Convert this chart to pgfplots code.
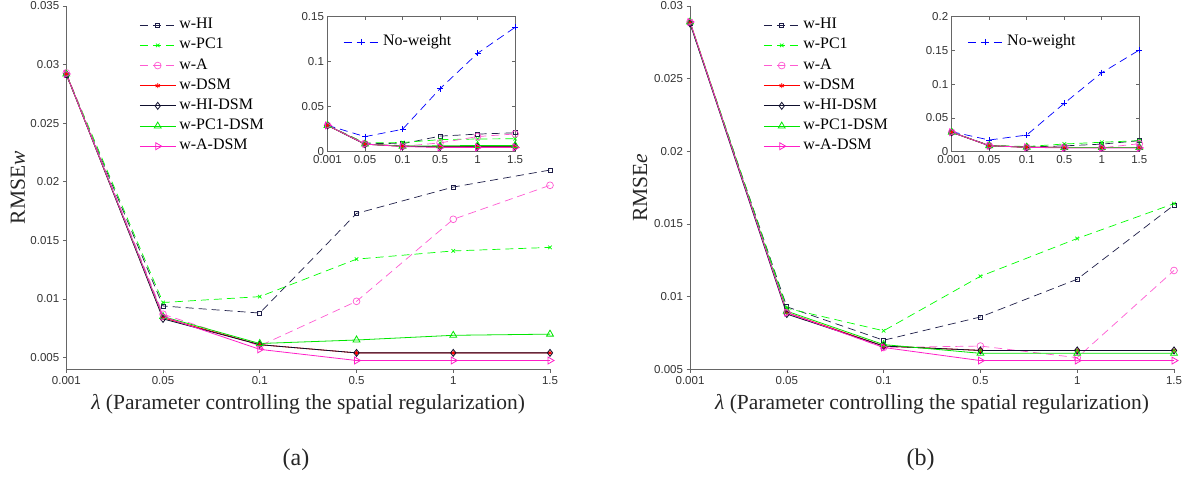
\documentclass[border=0pt]{standalone}
\usepackage{fontspec}
\setmainfont{Liberation Serif}
\newfontfamily\tickfont{Liberation Sans}
\usepackage{pgfplots}
\usepackage{pgfplotstable}
\pgfplotsset{compat=1.18}

\definecolor{cHI}{RGB}{30,30,72}
\definecolor{cPC}{RGB}{0,255,0}
\definecolor{cA}{RGB}{255,90,210}
\definecolor{cDSM}{RGB}{255,0,0}
\definecolor{cHID}{RGB}{15,15,45}
\definecolor{cPCD}{RGB}{0,230,0}
\definecolor{cAD}{RGB}{255,30,200}
\definecolor{cNW}{RGB}{0,0,255}

% RMSE_w (panel a)
\pgfplotstableread{
x HI PC A DSM HID PCD AD NW
0 0.0291 0.0292 0.0293 0.0292 0.0292 0.0292 0.0292 0.0293
1 0.0094 0.0097 0.0087 0.0084 0.0083 0.0085 0.0085 0.0167
2 0.0088 0.0102 0.0060 0.0061 0.0061 0.0062 0.0057 0.0249
3 0.0173 0.0134 0.0098 0.0054 0.0054 0.0065 0.00475 0.0700
4 0.01955 0.0141 0.0168 0.0054 0.0054 0.0069 0.00475 0.1093
5 0.0210 0.0144 0.0197 0.0054 0.0054 0.0070 0.00475 0.1382
}\dataA

% RMSE_e (panel b)
\pgfplotstableread{
x HI PC A DSM HID PCD AD NW
0 0.0288 0.0289 0.0289 0.0289 0.0288 0.0289 0.0289 0.0296
1 0.0093 0.0092 0.0089 0.0089 0.0088 0.0090 0.0089 0.0173
2 0.0070 0.00765 0.0065 0.0066 0.0066 0.0067 0.0065 0.0247
3 0.0086 0.0114 0.0066 0.0063 0.0063 0.0061 0.0056 0.0717
4 0.0112 0.0140 0.0058 0.0063 0.0063 0.0061 0.0056 0.1170
5 0.0163 0.0164 0.0118 0.0063 0.0063 0.0061 0.0056 0.1506
}\dataB

\pgfplotsset{
  sHI/.style={cHI, line width=0.7pt, dash pattern=on 8pt off 5pt, mark=square, mark size=2pt, mark options={solid}},
  sPC/.style={cPC, line width=0.7pt, dash pattern=on 8pt off 5pt, mark=x, mark size=2.5pt, mark options={solid}},
  sA/.style={cA, line width=0.7pt, dash pattern=on 8pt off 5pt, mark=o, mark size=3.4pt, mark options={solid}},
  sDSM/.style={cDSM, line width=0.8pt, solid, mark=asterisk, mark size=2.5pt},
  sHID/.style={cHID, line width=0.8pt, solid, mark=diamond, mark size=3.5pt},
  sPCD/.style={cPCD, line width=0.8pt, solid, mark=triangle, mark size=4pt},
  sAD/.style={cAD, line width=0.8pt, solid, mark=triangle, mark size=4pt, mark options={solid, rotate=-90}},
  sNW/.style={cNW, line width=0.7pt, dash pattern=on 8pt off 5pt, mark=+, mark size=3pt, mark options={solid}},
  common/.style={
    scale only axis, clip=false,
    xmin=0, xmax=5, xtick={0,1,2,3,4,5},
    xticklabels={0.001,0.05,0.1,0.5,1,1.5},
    major tick length=3.5pt,
    tick style={black!60, line width=0.6pt},
    ticklabel style={font=\tickfont\fontsize{11.5}{12}\selectfont, text=black!80},
    legend image code/.code={\draw[mark repeat=2,mark phase=2,##1] plot coordinates {(0pt,0pt) (17.85pt,0pt) (35.7pt,0pt)};},
    legend style={draw=none, fill=none, inner sep=0pt, anchor=north west,
      font=\fontsize{16}{18}\selectfont,
      nodes={inner sep=0pt, text height=11pt, text depth=4pt},
      row sep=5.17pt, column sep=3.3pt},
    legend cell align=left,
  },
  mainax/.style={common,
    axis lines=left, axis line style={-, black!60, line width=0.6pt},
    tick align=outside,
    width=483.7pt, height=363.3pt,
    every axis x label/.style={at={(axis description cs:0.5,-0.112)}, anchor=base,
      font=\fontsize{21.5}{24}\selectfont, text=black!85},
    legend style={at={(axis description cs:0.1509,0.9683)}},
  },
  insetax/.style={common,
    axis background/.style={fill=white},
    axis line style={black!60, line width=0.6pt},
    tick align=inside,
    width=187.6pt, height=135pt,
    ytick={0,0.05,0.1,0.15,0.2},
    yticklabels={0,0.05,0.1,0.15,0.2},
    legend style={at={(axis description cs:0.0832,0.870)}},
  },
}

\begin{document}
\begin{tikzpicture}
\useasboundingbox (0,0) rectangle (1185pt,478pt);

% ---------- panel (a) main
\begin{axis}[mainax, at={(66.3pt,108.7pt)}, anchor=south west,
  ymin=0.004, ymax=0.035,
  ytick={0.005,0.01,0.015,0.02,0.025,0.03,0.035},
  yticklabels={0.005,0.01,0.015,0.02,0.025,0.03,0.035},
  xlabel={{\itshape λ} (Parameter controlling the spatial regularization)},
  ylabel={RMSE\textit{w}},
  every axis y label/.style={at={(axis description cs:-0.0854,0.5)}, rotate=90, anchor=base,
      font=\fontsize{21.5}{24}\selectfont, text=black!85},
]
\addplot[sHI] table[x=x,y=HI]{\dataA}; \addlegendentry{w-HI}
\addplot[sPC] table[x=x,y=PC]{\dataA}; \addlegendentry{w-PC1}
\addplot[sA] table[x=x,y=A]{\dataA}; \addlegendentry{w-A}
\addplot[sDSM] table[x=x,y=DSM]{\dataA}; \addlegendentry{w-DSM}
\addplot[sHID] table[x=x,y=HID]{\dataA}; \addlegendentry{w-HI-DSM}
\addplot[sPCD] table[x=x,y=PCD]{\dataA}; \addlegendentry{w-PC1-DSM}
\addplot[sAD] table[x=x,y=AD]{\dataA}; \addlegendentry{w-A-DSM}
\end{axis}

% ---------- panel (a) inset
\begin{axis}[insetax, at={(327.5pt,326.3pt)}, anchor=south west,
  ymin=0, ymax=0.15]
\addplot[sNW] table[x=x,y=NW]{\dataA}; \addlegendentry{No-weight}
\addplot[sHI, forget plot] table[x=x,y=HI]{\dataA};
\addplot[sPC, forget plot] table[x=x,y=PC]{\dataA};
\addplot[sA, forget plot] table[x=x,y=A]{\dataA};
\addplot[sDSM, forget plot] table[x=x,y=DSM]{\dataA};
\addplot[sHID, forget plot] table[x=x,y=HID]{\dataA};
\addplot[sPCD, forget plot] table[x=x,y=PCD]{\dataA};
\addplot[sAD, forget plot] table[x=x,y=AD]{\dataA};
\end{axis}

% ---------- panel (b) main
\begin{axis}[mainax, at={(690pt,108.7pt)}, anchor=south west, width=484pt,
  ymin=0.005, ymax=0.03,
  ytick={0.005,0.01,0.015,0.02,0.025,0.03},
  yticklabels={0.005,0.01,0.015,0.02,0.025,0.03},
  xlabel={{\itshape λ} (Parameter controlling the spatial regularization)},
  ylabel={RMSE\textit{e}},
  every axis y label/.style={at={(axis description cs:-0.0888,0.5)}, rotate=90, anchor=base,
      font=\fontsize{21.5}{24}\selectfont, text=black!85},
  legend style={at={(axis description cs:0.1514,0.9683)}},
]
\addplot[sHI] table[x=x,y=HI]{\dataB}; \addlegendentry{w-HI}
\addplot[sPC] table[x=x,y=PC]{\dataB}; \addlegendentry{w-PC1}
\addplot[sA] table[x=x,y=A]{\dataB}; \addlegendentry{w-A}
\addplot[sDSM] table[x=x,y=DSM]{\dataB}; \addlegendentry{w-DSM}
\addplot[sHID] table[x=x,y=HID]{\dataB}; \addlegendentry{w-HI-DSM}
\addplot[sPCD] table[x=x,y=PCD]{\dataB}; \addlegendentry{w-PC1-DSM}
\addplot[sAD] table[x=x,y=AD]{\dataB}; \addlegendentry{w-A-DSM}
\end{axis}

% ---------- panel (b) inset
\begin{axis}[insetax, at={(951.7pt,326.3pt)}, anchor=south west,
  ymin=0, ymax=0.2]
\addplot[sNW] table[x=x,y=NW]{\dataB}; \addlegendentry{No-weight}
\addplot[sHI, forget plot] table[x=x,y=HI]{\dataB};
\addplot[sPC, forget plot] table[x=x,y=PC]{\dataB};
\addplot[sA, forget plot] table[x=x,y=A]{\dataB};
\addplot[sDSM, forget plot] table[x=x,y=DSM]{\dataB};
\addplot[sHID, forget plot] table[x=x,y=HID]{\dataB};
\addplot[sPCD, forget plot] table[x=x,y=PCD]{\dataB};
\addplot[sAD, forget plot] table[x=x,y=AD]{\dataB};
\end{axis}

\node[font=\fontsize{24}{26}\selectfont, text=black!85] at (296pt,18pt) {(a)};
\node[font=\fontsize{24}{26}\selectfont, text=black!85] at (920.5pt,18pt) {(b)};
\end{tikzpicture}
\end{document}
